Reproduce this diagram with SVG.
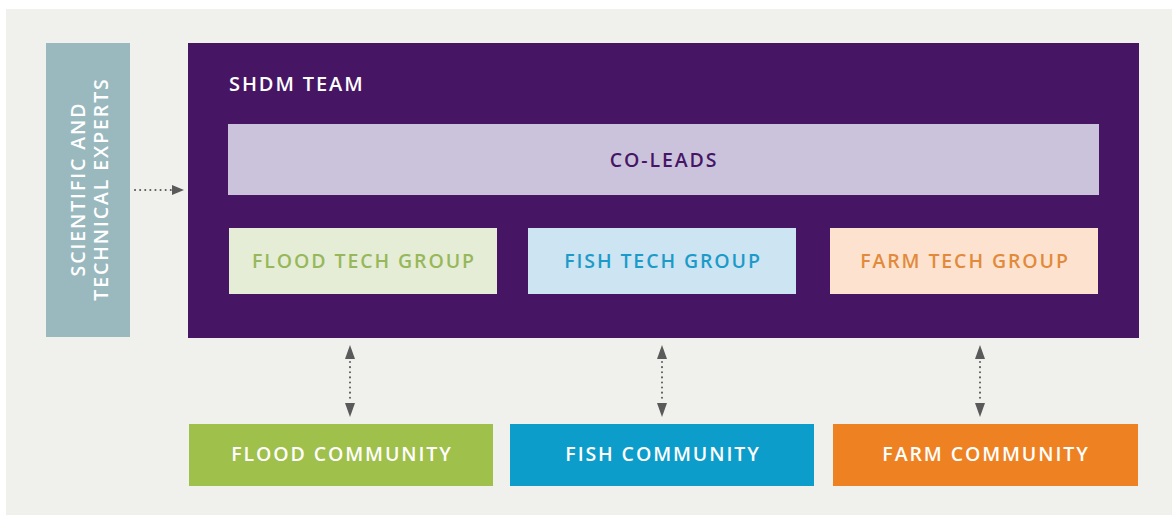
<svg xmlns="http://www.w3.org/2000/svg" width="1172" height="516" viewBox="0 0 1172 516">
  <defs>
    <style>
      text { font-family: "Open Sans", "Liberation Sans", sans-serif; font-weight: 600; letter-spacing: 1.9px; }
      .lbl { font-size: 19.5px; text-anchor: middle; dominant-baseline: central; }
      .conn { stroke: #5a5a5a; stroke-width: 2; stroke-dasharray: 0.1 5; stroke-linecap: round; fill: none; }
      .head { fill: #5a5a5a; }
      .white { fill: #ffffff; }
    </style>
  </defs>

  <!-- page -->
  <rect x="0" y="0" width="1172" height="516" fill="#ffffff"/>
  <rect x="6" y="9" width="1166" height="506" fill="#f0f0ec"/>

  <!-- external experts -->
  <g id="experts">
    <rect x="46" y="43" width="84" height="294" fill="#9ab9bf"/>
    <text class="lbl white" transform="translate(77,189) rotate(-90)">SCIENTIFIC AND</text>
    <text class="lbl white" transform="translate(100,189) rotate(-90)">TECHNICAL EXPERTS</text>
  </g>

  <!-- team container -->
  <g id="shdm-team">
    <rect x="188" y="43" width="951" height="295" fill="#461664"/>
    <text x="229" y="83" font-size="20" class="white" dominant-baseline="central">SHDM TEAM</text>
  </g>

  <g id="co-leads">
    <rect x="228" y="124" width="871" height="71" fill="#cbc3dc"/>
    <text x="664" y="159" class="lbl" fill="#461664">CO-LEADS</text>
  </g>

  <g id="flood-tech">
    <rect x="229" y="228" width="268" height="66" fill="#e5edd6"/>
    <text x="364" y="260" class="lbl" fill="#97b85a">FLOOD TECH GROUP</text>
  </g>
  <g id="fish-tech">
    <rect x="528" y="228" width="268" height="66" fill="#cde4f2"/>
    <text x="663" y="260" class="lbl" fill="#1c9bc9">FISH TECH GROUP</text>
  </g>
  <g id="farm-tech">
    <rect x="830" y="228" width="268" height="66" fill="#fde3cf"/>
    <text x="965" y="260" class="lbl" fill="#e28a3b">FARM TECH GROUP</text>
  </g>

  <!-- communities -->
  <g id="flood-community">
    <rect x="189" y="424" width="304" height="62" fill="#9fc04b"/>
    <text x="342" y="453" class="lbl white">FLOOD COMMUNITY</text>
  </g>
  <g id="fish-community">
    <rect x="510" y="424" width="304" height="62" fill="#0c9dcb"/>
    <text x="663" y="453" class="lbl white">FISH COMMUNITY</text>
  </g>
  <g id="farm-community">
    <rect x="833" y="424" width="305" height="62" fill="#ee8223"/>
    <text x="986" y="453" class="lbl white">FARM COMMUNITY</text>
  </g>

  <!-- connectors -->
  <g id="connectors">
    <line class="conn" x1="135" y1="190" x2="172" y2="190"/>
    <path class="head" d="M172,185 L184,190 L172,195 Z"/>

    <line class="conn" x1="350" y1="362" x2="350" y2="402"/>
    <path class="head" d="M345,359 L350,345 L355,359 Z"/>
    <path class="head" d="M345,403 L350,417 L355,403 Z"/>

    <line class="conn" x1="662" y1="362" x2="662" y2="402"/>
    <path class="head" d="M657,359 L662,345 L667,359 Z"/>
    <path class="head" d="M657,403 L662,417 L667,403 Z"/>

    <line class="conn" x1="980" y1="362" x2="980" y2="402"/>
    <path class="head" d="M975,359 L980,345 L985,359 Z"/>
    <path class="head" d="M975,403 L980,417 L985,403 Z"/>
  </g>
</svg>
